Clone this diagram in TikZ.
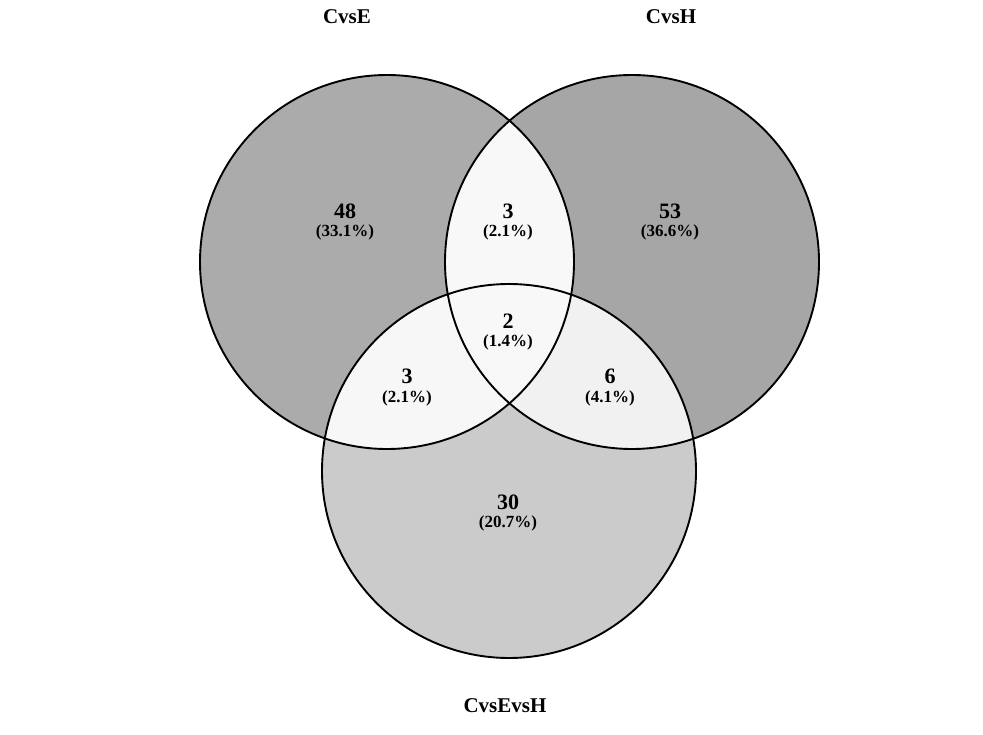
\documentclass[tikz,border=0pt]{standalone}
\usepackage{fontspec}
\setmainfont{Liberation Serif}
\definecolor{cE}{HTML}{ABABAB}
\definecolor{cH}{HTML}{A6A6A6}
\definecolor{cV}{HTML}{CBCBCB}
\definecolor{cEH}{HTML}{F8F8F8}
\definecolor{cEV}{HTML}{F7F7F7}
\definecolor{cHV}{HTML}{F1F1F1}
\definecolor{cEHV}{HTML}{F8F8F8}
\begin{document}
\begin{tikzpicture}[x=1pt,y=-1pt,
  num/.style={font=\fontsize{22}{22}\selectfont\bfseries, inner sep=0pt},
  pct/.style={font=\fontsize{17}{17}\selectfont\bfseries, inner sep=0pt},
  setlabel/.style={font=\fontsize{21}{21}\selectfont\bfseries, inner sep=0pt},
  ring/.style={draw=black, line width=1.9pt}]
\useasboundingbox (0,0) rectangle (983,735);
\fill[white] (0,0) rectangle (983,735);
\coordinate (E) at (387,262);
\coordinate (H) at (632,262);
\coordinate (V) at (509,471);
% exclusive fills
\fill[cE] (E) circle[radius=187pt];
\fill[cH] (H) circle[radius=187pt];
\fill[cV] (V) circle[radius=187pt];
% pairwise intersections
\begin{scope}
  \clip (E) circle[radius=187pt];
  \fill[cEH] (H) circle[radius=187pt];
\end{scope}
\begin{scope}
  \clip (E) circle[radius=187pt];
  \fill[cEV] (V) circle[radius=187pt];
\end{scope}
\begin{scope}
  \clip (H) circle[radius=187pt];
  \fill[cHV] (V) circle[radius=187pt];
\end{scope}
\begin{scope}
  \clip (E) circle[radius=187pt];
  \clip (H) circle[radius=187pt];
  \fill[cEHV] (V) circle[radius=187pt];
\end{scope}
% outlines
\draw[ring] (E) circle[radius=187pt];
\draw[ring] (H) circle[radius=187pt];
\draw[ring] (V) circle[radius=187pt];
% set labels
\node[setlabel] (lE) at (347,17) {CvsE};
\node[setlabel] (lH) at (671,17) {CvsH};
\node[setlabel] (lV) at (505,706) {CvsEvsH};
% region counts
\node[num] (n48) at (345,211) {48};
\node[pct] (p48) at (345,232) {(33.1\%)};
\node[num] (n3a) at (508,211) {3};
\node[pct] (p3a) at (508,232) {(2.1\%)};
\node[num] (n53) at (670,211) {53};
\node[pct] (p53) at (670,232) {(36.6\%)};
\node[num] (n2) at (508,321) {2};
\node[pct] (p2) at (508,342) {(1.4\%)};
\node[num] (n3b) at (407,376) {3};
\node[pct] (p3b) at (407,398) {(2.1\%)};
\node[num] (n6) at (610,376) {6};
\node[pct] (p6) at (610,398) {(4.1\%)};
\node[num] (n30) at (508,502) {30};
\node[pct] (p30) at (508,523) {(20.7\%)};
\end{tikzpicture}
\end{document}
